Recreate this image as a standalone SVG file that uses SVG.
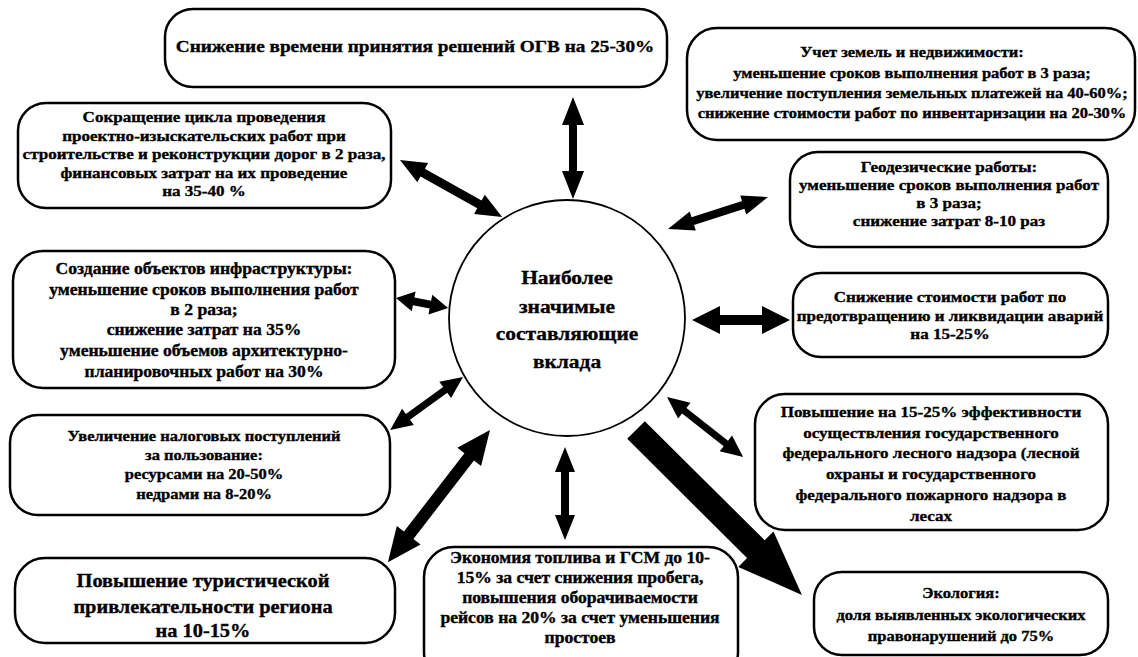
<svg xmlns="http://www.w3.org/2000/svg" width="1138" height="657" viewBox="0 0 1138 657">
<style>
.box{fill:#fff;stroke:#000;stroke-width:2.5}
.circ{fill:#fff;stroke:#000;stroke-width:1.8}
.t{font-family:"Liberation Serif","Times New Roman",serif;font-weight:bold;text-anchor:middle;fill:#000;stroke:#000;stroke-width:0.35}
.arr{fill:#000;stroke:none}
</style>
<rect width="1138" height="657" fill="#fff"/>
<g id="nodes">
<g id="n-ogv">
<rect class="box" x="165" y="9" width="502" height="78" rx="28"/>
<g transform="translate(415 0) scale(1.1 1)"><text class="t" style="font-size:17.5px" y="52">Снижение времени принятия решений ОГВ на 25-30%</text></g>
</g>
<g id="n-zemli">
<rect class="box" x="687" y="28" width="448" height="112" rx="30"/>
<g transform="translate(912 0) scale(1.1 1)" style="font-size:15px">
<text class="t" y="57.5">Учет земель и недвижимости:</text>
<text class="t" y="78.5">уменьшение сроков выполнения работ в 3 раза;</text>
<text class="t" y="98.5">увеличение поступления земельных платежей на 40-60%;</text>
<text class="t" y="118.5">снижение стоимости работ по инвентаризации на 20-30%</text>
</g>
</g>
<g id="n-dorogi">
<rect class="box" x="18" y="103" width="373" height="105" rx="28"/>
<g transform="translate(204 0) scale(1.1 1)" style="font-size:15.5px">
<text class="t" y="122.5">Сокращение цикла проведения</text>
<text class="t" y="141.5">проектно-изыскательских работ при</text>
<text class="t" y="159.5">строительстве и реконструкции дорог в 2 раза,</text>
<text class="t" y="178.5">финансовых затрат на их проведение</text>
<text class="t" y="196.5">на 35-40 %</text>
</g>
</g>
<g id="n-geodez">
<rect class="box" x="790" y="152" width="318" height="95" rx="28"/>
<g transform="translate(949 0) scale(1.1 1)" style="font-size:15.5px">
<text class="t" y="172.5">Геодезические работы:</text>
<text class="t" y="190.5">уменьшение сроков выполнения работ</text>
<text class="t" y="208.5">в 3 раза;</text>
<text class="t" y="226.5">снижение затрат 8-10 раз</text>
</g>
</g>
<g id="n-infra">
<rect class="box" x="13" y="251" width="382" height="137" rx="30"/>
<g transform="translate(204 0) scale(1.1 1)" style="font-size:16px">
<text class="t" y="274">Создание объектов инфраструктуры:</text>
<text class="t" y="295">уменьшение сроков выполнения работ</text>
<text class="t" y="315">в 2 раза;</text>
<text class="t" y="335">снижение затрат на 35%</text>
<text class="t" y="356">уменьшение объемов архитектурно-</text>
<text class="t" y="377">планировочных работ на 30%</text>
</g>
</g>
<g id="n-avarii">
<rect class="box" x="793" y="273" width="315" height="84" rx="28"/>
<g transform="translate(950 0) scale(1.1 1)" style="font-size:15.5px">
<text class="t" y="302.5">Снижение стоимости работ по</text>
<text class="t" y="321.5">предотвращению и ликвидации аварий</text>
<text class="t" y="339.5">на 15-25%</text>
</g>
</g>
<g id="n-nalog">
<rect class="box" x="10" y="415" width="380" height="100" rx="28"/>
<g transform="translate(204 0) scale(1.1 1)" style="font-size:15px">
<text class="t" y="441.5">Увеличение налоговых поступлений</text>
<text class="t" y="460.5">за пользование:</text>
<text class="t" y="479.5">ресурсами на 20-50%</text>
<text class="t" y="499.5">недрами на 8-20%</text>
</g>
</g>
<g id="n-les">
<rect class="box" x="755" y="394" width="353" height="136" rx="30"/>
<g transform="translate(931 0) scale(1.1 1)" style="font-size:15.5px">
<text class="t" y="417.5">Повышение на 15-25% эффективности</text>
<text class="t" y="438.5">осуществления государственного</text>
<text class="t" y="458.5">федерального лесного надзора (лесной</text>
<text class="t" y="479.5">охраны и государственного</text>
<text class="t" y="500.5">федерального пожарного надзора в</text>
<text class="t" y="521.5">лесах</text>
</g>
</g>
<g id="n-turizm">
<rect class="box" x="15" y="558" width="380" height="85" rx="30"/>
<g transform="translate(203 0) scale(1.1 1)" style="font-size:18.5px">
<text class="t" y="587.5">Повышение туристической</text>
<text class="t" y="613.5">привлекательности региона</text>
<text class="t" y="637.5">на 10-15%</text>
</g>
</g>
<g id="n-toplivo">
<rect class="box" x="424" y="547" width="314" height="135" rx="30"/>
<g transform="translate(580 0) scale(1.1 1)" style="font-size:16px">
<text class="t" y="563">Экономия топлива и ГСМ до 10-</text>
<text class="t" y="583">15% за счет снижения пробега,</text>
<text class="t" y="603">повышения оборачиваемости</text>
<text class="t" y="623">рейсов на 20% за счет уменьшения</text>
<text class="t" y="643">простоев</text>
</g>
</g>
<g id="n-ekologia">
<rect class="box" x="814" y="572" width="294" height="83" rx="28"/>
<g transform="translate(961 0) scale(1.1 1)" style="font-size:15px">
<text class="t" y="598.5">Экология:</text>
<text class="t" y="620.5">доля выявленных экологических</text>
<text class="t" y="641.5">правонарушений до 75%</text>
</g>
</g>
<g id="n-center">
<circle class="circ" cx="567" cy="318" r="118"/>
<g transform="translate(567 0) scale(1.1 1)" style="font-size:19.5px">
<text class="t" y="284">Наиболее</text>
<text class="t" y="313">значимые</text>
<text class="t" y="340">составляющие</text>
<text class="t" y="368">вклада</text>
</g>
</g>
</g>
<g id="connectors">
<polygon class="arr" transform="translate(573 97) rotate(90)" points="0,0 28,-11 28,-4 74,-4 74,-11 102,0 74,11 74,4 28,4 28,11"/>
<polygon class="arr" transform="translate(400 160) rotate(29.19)" points="0,0 26,-11 26,-4.5 91,-4.5 91,-11 117,0 91,11 91,4.5 26,4.5 26,11"/>
<polygon class="arr" transform="translate(668 229) rotate(-17.74)" points="0,0 26,-10 26,-4 79,-4 79,-10 105,0 79,10 79,4 26,4 26,10"/>
<polygon class="arr" transform="translate(396 298) rotate(10.89)" points="0,0 18,-10 18,-4 35,-4 35,-10 53,0 35,10 35,4 18,4 18,10"/>
<polygon class="arr" transform="translate(692 320)" points="0,0 28,-14 28,-5 70,-5 70,-14 98,0 70,14 70,5 28,5 28,14"/>
<polygon class="arr" transform="translate(667 397) rotate(38.29)" points="0,0 22,-10 22,-3.5 75,-3.5 75,-10 97,0 75,10 75,3.5 22,3.5 22,10"/>
<polygon class="arr" transform="translate(636 430) rotate(44.83)" points="0,-12.5 169,-12.5 169,-25 234,0 169,25 169,12.5 0,12.5"/>
<polygon class="arr" transform="translate(565 447) rotate(90)" points="0,0 25,-10 25,-4 68,-4 68,-10 93,0 68,10 68,4 25,4 25,10"/>
<polygon class="arr" transform="translate(490 430) rotate(127.69)" points="0,0 34,-15 34,-6 133,-6 133,-15 167,0 133,15 133,6 34,6 34,15"/>
<polygon class="arr" transform="translate(463 377) rotate(144.02)" points="0,0 22,-10 22,-3.5 68,-3.5 68,-10 90,0 68,10 68,3.5 22,3.5 22,10"/>
</g>
</svg>
